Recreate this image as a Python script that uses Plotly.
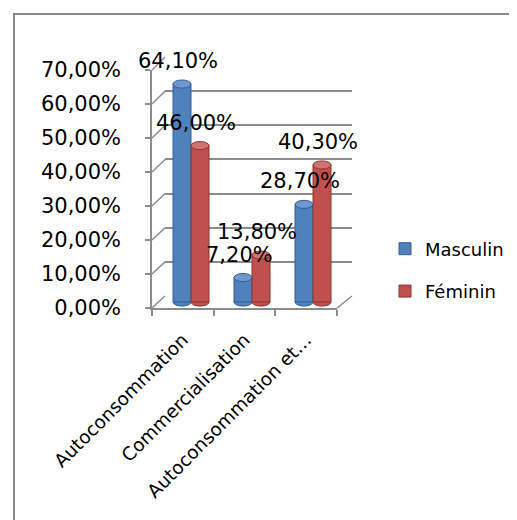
import plotly.graph_objects as go

# ---------------- data ----------------
categories = ["Autoconsommation", "Commercialisation", "Autoconsommation et…"]
series_names = ["Masculin", "Féminin"]
masculin = [0.641, 0.072, 0.287]
feminin = [0.460, 0.138, 0.403]
y_ticks = [0.0, 0.1, 0.2, 0.3, 0.4, 0.5, 0.6, 0.7]

# ---------------- geometry / style ----------------
# the page body has an 8px margin, so the figure is 8px smaller and
# all page-pixel positions below are shifted by that margin
OFF = 8
W, H = 517 - OFF, 520 - OFF


def px(x):
    return (x - OFF) / W


def py(y):
    return 1 - (y - OFF) / H


FONT = "DejaVu Sans"
GRAY = "#8c8c8c"
BLUE, BLUE_D, BLUE_T = "#4F81BD", "#345F94", "#6F98D0"
RED, RED_D, RED_T = "#C0504D", "#8E3431", "#D27370"

# front wall (labels), back wall (gridlines), bars layer - page-pixel frames
FRONT_X = (152, 337)
FRONT_Y = (308, 70)
BACK_X = (165, 352)
BACK_Y = (296, 57)
BAR_X = (160.5, 343.5)
BAR_Y = (312.2, 64)
Y_MAX = 0.7
BAR_YMIN = -0.03
GROUP_W = 0.59
BAR_W = GROUP_W / 2
CAP = 0.012


def fmt(v):
    return f"{v * 100:.2f}%".replace(".", ",")


fig = go.Figure()

# helper traces so the front and back frames get their category axes
fig.add_trace(go.Scatter(x=categories, y=[0, 0, 0], xaxis="x", yaxis="y",
                         mode="markers", marker=dict(opacity=0),
                         showlegend=False, hoverinfo="skip"))
fig.add_trace(go.Scatter(x=categories, y=[0, 0, 0], xaxis="x2", yaxis="y2",
                         mode="markers", marker=dict(opacity=0),
                         showlegend=False, hoverinfo="skip"))

colors = [(BLUE, BLUE_D, BLUE_T), (RED, RED_D, RED_T)]
for name, vals, (c, cd, ct), grp in zip(series_names, [masculin, feminin], colors, ["m", "f"]):
    fig.add_trace(go.Bar(name=name, x=categories, y=vals, xaxis="x3", yaxis="y3",
                         marker=dict(color=c, line=dict(color=cd, width=1)),
                         legendgroup=grp, hoverinfo="skip"))

shapes = []
annotations = []
# cylinder caps and bottoms, derived from the data
for s, (vals, (c, cd, ct)) in enumerate(zip([masculin, feminin], colors)):
    for i, v in enumerate(vals):
        x0 = i - GROUP_W / 2 + s * BAR_W
        x1 = x0 + BAR_W
        shapes.append(dict(type="circle", xref="x3", yref="y3", x0=x0, x1=x1,
                           y0=-CAP, y1=CAP, fillcolor=c,
                           line=dict(color=cd, width=1), layer="below"))
        shapes.append(dict(type="circle", xref="x3", yref="y3", x0=x0, x1=x1,
                           y0=v - CAP, y1=v + CAP, fillcolor=ct,
                           line=dict(color=cd, width=1), layer="above"))
        annotations.append(dict(x=categories[i], y=v, xref="x3", yref="y3",
                                text=fmt(v), showarrow=False,
                                xshift=(-13 if s == 0 else 5), yshift=23,
                                font=dict(family=FONT, size=21, color="#000")))


# side-wall diagonals and floor edge
def yf(v):
    return FRONT_Y[0] + (FRONT_Y[1] - FRONT_Y[0]) * v / Y_MAX


def yb(v):
    return BACK_Y[0] + (BACK_Y[1] - BACK_Y[0]) * v / Y_MAX


for v in y_ticks:
    shapes.append(dict(type="line", xref="paper", yref="paper",
                       x0=px(FRONT_X[0]), y0=py(yf(v)), x1=px(BACK_X[0]), y1=py(yb(v)),
                       line=dict(color=GRAY, width=1.5), layer="below"))
shapes.append(dict(type="line", xref="paper", yref="paper",
                   x0=px(FRONT_X[1]), y0=py(yf(0)), x1=px(BACK_X[1]), y1=py(yb(0)),
                   line=dict(color=GRAY, width=1.5), layer="below"))

# outer chart border
shapes.append(dict(type="rect", xref="paper", yref="paper",
                   x0=px(14), x1=px(540), y0=py(14), y1=py(545),
                   line=dict(color="#8a8a8a", width=2), layer="below"))

fig.update_layout(
    template="none",
    width=W, height=H,
    margin=dict(l=0, r=0, t=0, b=0, pad=0),
    paper_bgcolor="white", plot_bgcolor="rgba(0,0,0,0)",
    separators=", ",
    font=dict(family=FONT, size=18, color="#000"),
    barmode="group", bargap=1 - GROUP_W, bargroupgap=0,
    showlegend=True,
    legend=dict(x=px(385), xanchor="left", y=py(270), yanchor="middle",
                font=dict(family=FONT, size=18, color="#000"),
                tracegroupgap=16, itemwidth=30, bgcolor="rgba(0,0,0,0)"),
    shapes=shapes,
    annotations=annotations,
    xaxis=dict(domain=[px(FRONT_X[0]), px(FRONT_X[1])], anchor="y", type="category",
               range=[-0.5, 2.5], showline=True, linecolor=GRAY, linewidth=1.5,
               ticks="outside", tickson="boundaries", ticklen=6, tickcolor=GRAY,
               tickwidth=1.5, tickangle=-45, showgrid=False, zeroline=False,
               automargin=False, ticklabelstandoff=12,
               tickfont=dict(family=FONT, size=18.5, color="#000")),
    yaxis=dict(domain=[py(FRONT_Y[0]), py(FRONT_Y[1])], anchor="x",
               range=[0, Y_MAX], tickvals=y_ticks, tickformat=".2%",
               showline=True, linecolor=GRAY, linewidth=1.5,
               ticks="outside", ticklen=5, tickcolor=GRAY, tickwidth=1.5,
               ticklabelstandoff=20, showgrid=False, zeroline=False,
               automargin=False,
               tickfont=dict(family=FONT, size=21, color="#000")),
    xaxis2=dict(domain=[px(BACK_X[0]), px(BACK_X[1])], anchor="y2", type="category",
                range=[-0.5, 2.5], showline=False, showticklabels=False, ticks="",
                showgrid=False, zeroline=False, automargin=False),
    yaxis2=dict(domain=[py(BACK_Y[0]), py(BACK_Y[1])], anchor="x2",
                range=[0, Y_MAX], tickvals=y_ticks, showgrid=True, gridcolor=GRAY,
                gridwidth=1.5, showticklabels=False, zeroline=False, showline=False,
                ticks="", automargin=False),
    xaxis3=dict(domain=[px(BAR_X[0]), px(BAR_X[1])], anchor="y3", type="category",
                range=[-0.5, 2.5], visible=False, automargin=False),
    yaxis3=dict(domain=[py(BAR_Y[0]), py(BAR_Y[1])], anchor="x3",
                range=[BAR_YMIN, Y_MAX], visible=False, automargin=False),
)

fig.write_html("out.html")
